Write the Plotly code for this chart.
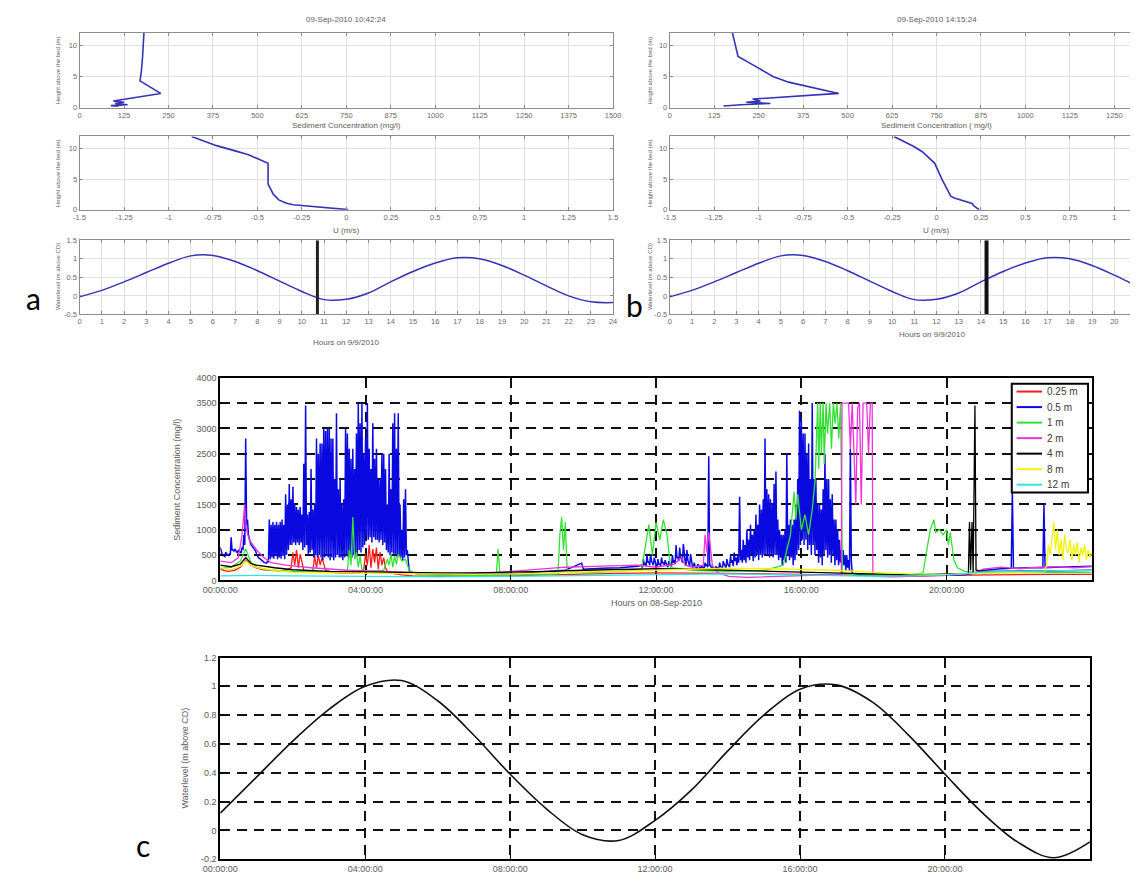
import plotly.graph_objects as go

W, H = 1138, 882

# ---------------- data ----------------
# Tide on 9 Sep 2010 (hourly, m above CD) used in panels a and b
tide_hours = list(range(25))
tide_9sep = [-0.02, 0.15, 0.38, 0.63, 0.88, 1.08, 1.09, 0.93, 0.68, 0.40, 0.12, -0.10, -0.09,
             0.08, 0.38, 0.66, 0.89, 1.03, 1.00, 0.82, 0.56, 0.27, 0.00, -0.16, -0.18]
# Tide on 8 Sep 2010 (hourly) for panel c
tide_8sep = [0.12, 0.37, 0.62, 0.84, 1.00, 1.04, 0.90, 0.66, 0.39, 0.15, -0.03, -0.07, 0.07,
             0.28, 0.55, 0.80, 0.98, 1.01, 0.89, 0.66, 0.39, 0.13, -0.08, -0.19, -0.08]

# Profile times (hours) marked on the tide curves
profile_time_a = 10.70   # 10:42:24
profile_time_b = 14.25   # 14:15:24

# Sediment concentration profiles (height above bed m, mg/l)
sed_height_a = [12, 10, 8, 6, 4.3, 2.3, 1.6, 1.1, 0.9, 0.7, 0.5, 0.35, 0.25]
sed_conc_a = [181, 180, 177, 174, 170, 228, 150, 95, 125, 100, 135, 88, 110]
sed_height_b = [12, 8.2, 6.5, 5, 4.1, 2.3, 1.4, 1.1, 0.9, 0.7, 0.5, 0.3]
sed_conc_b = [176, 192, 245, 290, 334, 475, 233, 255, 215, 283, 200, 151]

# Velocity profiles (height above bed m, U m/s)
vel_height_a = [12, 10.5, 9.6, 9.0, 7.6, 4.2, 2.5, 1.6, 1.1, 0.8, 0.6, 0.4, 0.2, 0.0]
vel_u_a = [-0.87, -0.73, -0.62, -0.55, -0.44, -0.44, -0.41, -0.38, -0.34, -0.30, -0.22, -0.13, -0.05, 0.01]
vel_height_b = [12, 10.4, 9.5, 7.6, 5.0, 2.2, 1.9, 1.6, 1.3, 1.0, 0.6, 0.0]
vel_u_b = [-0.24, -0.13, -0.08, -0.01, 0.03, 0.08, 0.10, 0.13, 0.17, 0.20, 0.21, 0.24]

# Sediment concentration time series on 8 Sep 2010 (hours, mg/l)
# 0.5 m sensor: bursts logged every 1.5 minutes as alternating upper / lower readings
burst_step = 0.05
burst1_start = 0.0
c050_burst1_hi = [650, 520, 480, 560, 500, 520, 850, 600, 620, 560, 600, 560, 650, 900, 2800, 1200,
                  800, 700, 650, 600, 520, 450, 420, 380, 360, 350,
                  380, 1200, 1100, 1150, 1100, 1150, 1100, 1150, 1200, 1100,
                  1700, 1500, 1900, 1600, 1850, 1500, 1450, 1400, 1450, 1300,
                  2300, 3450, 1300, 1350, 2200, 1400, 1500, 2800, 2500, 2700,
                  2700, 3000, 2950, 3000, 3000, 2800, 2800, 2000, 3300, 1800,
                  2000, 1500, 1600, 3000, 2900, 2600, 2400, 2600, 2200, 2900,
                  3500, 3100, 3500, 2500, 2800, 3500, 2600, 2200, 3100, 2400,
                  2600, 2000, 2000, 2500, 2500, 2200, 1500, 2500, 1800, 3100,
                  3300, 2600, 3300, 1500, 1000, 1600, 1800, 600, 200]
c050_burst1_lo = [560, 500, 470, 520, 490, 500, 600, 580, 590, 540, 570, 540, 600, 700, 1100, 900,
                  750, 680, 620, 580, 480, 440, 400, 370, 350, 340,
                  360, 420, 450, 430, 480, 420, 450, 430, 480, 420,
                  500, 600, 700, 700, 750, 700, 750, 700, 750, 600,
                  650, 700, 500, 550, 600, 450, 500, 450, 500, 450,
                  400, 450, 500, 450, 400, 450, 400, 450, 500, 450,
                  450, 400, 450, 500, 450, 500, 450, 500, 450, 500,
                  600, 550, 650, 700, 850, 800, 850, 750, 850, 800,
                  800, 750, 800, 700, 750, 600, 550, 500, 550, 500,
                  500, 450, 500, 450, 400, 450, 500, 300, 180]
quiet1_050 = [(5.3, 150), (5.6, 130), (6.0, 120), (6.5, 115), (7.0, 120), (7.5, 120), (8.0, 130),
              (8.5, 150), (9.0, 180), (9.5, 200), (9.95, 340), (10.0, 220), (10.5, 240),
              (11.0, 250), (11.5, 280)]
burst2_start = 11.6
c050_burst2_hi = [300, 420, 350, 500, 380, 520, 350, 450, 300, 420, 320, 450, 350, 400, 300, 380,
                  320, 500, 400, 700, 450, 650, 420, 720, 380, 600, 330, 520, 280, 350, 260, 320,
                  250, 300, 260, 350, 320, 2450, 300, 260, 240, 280, 250, 350, 260, 380, 280, 420,
                  300, 480, 400, 550, 450, 500, 1650, 600, 800, 700, 1000, 800, 1100, 900, 1000, 1300,
                  1100, 1500, 1400, 1600, 2800, 1800, 1700, 1600, 1500, 1900, 2150, 1200, 1000, 900, 900,
                  1000, 2500, 1100, 1200, 1100, 1200, 1500, 2000, 3350, 3200, 2900, 2900, 2500, 2700,
                  2000, 3500, 2000, 2000, 1500, 1500, 1400, 1800, 2500, 2000, 2000, 1600, 1700, 1200,
                  1200, 1000, 800, 600, 600, 500, 500, 400, 2600, 150, 120]
c050_burst2_lo = [250, 300, 280, 350, 300, 380, 300, 350, 260, 320, 280, 350, 300, 330, 260, 300,
                  280, 350, 320, 450, 380, 450, 350, 450, 300, 400, 280, 350, 240, 280, 230, 260,
                  220, 250, 230, 280, 260, 300, 250, 230, 210, 240, 220, 280, 230, 300, 240, 320,
                  260, 350, 280, 380, 300, 350, 400, 350, 400, 350, 450, 400, 500, 380, 450, 500,
                  400, 500, 450, 500, 500, 500, 450, 500, 450, 500, 500, 400, 450, 300, 400,
                  350, 500, 400, 450, 300, 400, 500, 600, 700, 800, 700, 800, 600, 700,
                  500, 700, 500, 600, 350, 450, 300, 500, 600, 450, 500, 350, 500, 300,
                  400, 300, 350, 250, 300, 200, 250, 180, 400, 130, 110]
quiet2_050 = [(17.6, 110), (18.0, 100), (19.0, 90), (20.0, 100), (20.5, 110), (20.8, 150),
              (21.0, 200), (21.5, 230), (21.78, 240), (21.81, 1780), (21.84, 240), (22.2, 250),
              (22.65, 250), (22.68, 1500), (22.71, 250), (23.0, 260), (23.5, 270), (24.0, 280)]

ssc_025 = [(0, 220), (0.2, 180), (0.4, 200), (0.55, 260), (0.7, 400), (0.85, 300), (1.0, 240),
           (1.2, 210), (1.4, 200), (1.6, 190), (1.8, 200), (1.95, 250), (2.0, 550), (2.05, 300),
           (2.1, 600), (2.15, 250), (2.2, 520), (2.25, 350), (2.3, 200), (2.4, 180), (2.55, 200),
           (2.6, 480), (2.65, 250), (2.7, 500), (2.75, 300), (2.8, 450), (2.9, 200), (3.2, 150),
           (3.5, 140), (3.8, 150), (3.95, 200), (4.0, 520), (4.05, 300), (4.1, 700), (4.15, 250),
           (4.2, 620), (4.25, 350), (4.3, 650), (4.35, 220), (4.4, 560), (4.45, 300), (4.5, 450),
           (4.55, 250), (4.6, 180), (4.8, 130), (5.0, 110), (5.3, 90), (6, 80), (7, 80), (8, 90),
           (9, 110), (10, 130), (11, 140), (12, 150), (13, 150), (14, 140), (15, 130), (16, 120),
           (17, 100), (18, 90), (19, 90), (20, 100), (21, 110), (22, 110), (23, 120), (24, 120)]

ssc_1 = [(0, 230), (0.3, 260), (0.55, 380), (0.7, 620), (0.85, 350), (1.0, 260), (1.3, 210),
         (2.0, 180), (3.0, 170), (3.5, 180), (3.55, 600), (3.6, 300), (3.65, 1250), (3.7, 420),
         (3.75, 560), (3.8, 260), (3.85, 480), (3.9, 220), (4.0, 180), (4.5, 200), (4.6, 420),
         (4.65, 300), (4.7, 520), (4.75, 260), (4.8, 480), (4.85, 320), (4.9, 520), (5.0, 380),
         (5.1, 420), (5.2, 200), (5.4, 120), (6, 100), (7, 100), (7.6, 100), (7.65, 620),
         (7.7, 100), (8, 110), (9, 120), (9.3, 130), (9.35, 900), (9.4, 1250), (9.45, 600),
         (9.5, 1150), (9.55, 200), (10, 150), (11, 180), (11.6, 220), (11.7, 650), (11.8, 1100),
         (11.9, 500), (12.0, 1150), (12.1, 800), (12.2, 1200), (12.3, 900), (12.4, 250),
         (13, 200), (14, 180), (15, 200), (15.5, 300), (15.7, 900), (15.8, 1750), (15.85, 1200),
         (15.9, 1700), (16.0, 1000), (16.1, 1300), (16.2, 900), (16.3, 1400), (16.38, 2000),
         (16.45, 3500), (16.48, 2200), (16.52, 3500), (16.55, 2500), (16.6, 3500), (16.63, 2300),
         (16.68, 3500), (16.72, 2900), (16.78, 3500), (16.83, 2600), (16.88, 3500), (16.93, 3100),
         (16.98, 3500), (17.03, 2800), (17.08, 3500), (17.13, 150), (17.5, 110), (18, 100),
         (19, 110), (19.35, 150), (19.45, 600), (19.55, 1000), (19.65, 1200), (19.7, 950),
         (19.8, 1000), (19.9, 900), (20.0, 1000), (20.05, 700), (20.1, 950), (20.2, 400),
         (20.3, 250), (20.5, 180), (21, 150), (22, 150), (23, 160), (24, 160)]

ssc_2 = [(0, 380), (0.3, 350), (0.5, 450), (0.6, 900), (0.67, 1500), (0.72, 1000), (0.8, 800),
         (0.9, 700), (1.0, 600), (1.2, 450), (1.4, 350), (1.8, 300), (2.5, 250), (3.5, 200),
         (4.5, 180), (5.5, 150), (6.5, 130), (7.5, 150), (8.5, 200), (9.5, 260), (10.5, 280),
         (11.5, 300), (12.0, 260), (12.5, 320), (12.7, 450), (12.8, 300), (13.0, 260), (13.3, 300),
         (13.35, 900), (13.4, 550), (13.45, 950), (13.5, 600), (13.55, 300), (13.7, 150),
         (14.0, 80), (14.5, 60), (15.0, 70), (16.0, 100), (17.0, 120), (17.1, 120), (17.12, 3500),
         (17.3, 3500), (17.35, 2600), (17.4, 3500), (17.5, 1500), (17.55, 3400), (17.6, 3500),
         (17.65, 1500), (17.7, 3500), (17.8, 3500), (17.85, 2500), (17.9, 3500), (17.95, 3500),
         (17.97, 80), (18.5, 70), (19.0, 80), (20.0, 100), (20.8, 150), (21.0, 220), (21.5, 260),
         (22.0, 230), (22.5, 260), (23.0, 270), (23.5, 250), (24.0, 270)]

ssc_4 = [(0, 300), (0.3, 270), (0.55, 320), (0.7, 450), (0.85, 330), (1.0, 300), (1.5, 250),
         (2, 210), (3, 180), (4, 170), (5, 150), (6, 150), (7, 150), (8, 160), (9, 180), (10, 200),
         (11, 220), (12, 230), (13, 220), (14, 200), (15, 180), (16, 160), (17, 140), (18, 120),
         (19, 110), (20, 130), (20.6, 140), (20.63, 1150), (20.66, 200), (20.7, 1150),
         (20.73, 160), (20.78, 3450), (20.81, 200), (21, 180), (22, 180), (23, 190), (24, 200)]

ssc_8 = [(0, 250), (0.3, 210), (0.55, 280), (0.7, 380), (0.85, 300), (1.0, 250), (1.5, 200),
         (2, 160), (3, 150), (4, 140), (5, 130), (6, 120), (7, 120), (8, 130), (9, 150), (10, 170),
         (11, 190), (12, 210), (13, 230), (14, 240), (15, 230), (16, 220), (17, 200), (18, 160),
         (19, 130), (20, 120), (21, 150), (22, 160), (22.7, 170), (22.75, 300), (22.8, 700),
         (22.85, 500), (22.9, 900), (22.95, 1150), (23.0, 600), (23.05, 1000), (23.1, 500),
         (23.15, 800), (23.2, 400), (23.25, 900), (23.3, 600), (23.35, 550), (23.4, 800),
         (23.45, 400), (23.5, 700), (23.55, 500), (23.6, 750), (23.65, 350), (23.7, 650),
         (23.75, 500), (23.8, 700), (23.85, 400), (23.9, 600), (23.95, 450), (24.0, 550)]

ssc_12 = [(0, 90), (1, 100), (2, 90), (4, 80), (6, 70), (8, 80), (10, 100), (12, 120), (14, 130),
          (16, 110), (17, 100), (18, 80), (19, 90), (20, 110), (20.8, 150), (21, 170), (22, 180),
          (23, 190), (24, 200)]

sensor_names = ["0.25 m", "0.5 m", "1 m", "2 m", "4 m", "8 m", "12 m"]
sensor_colors = ["#ff1a1a", "#0a0ae0", "#33e033", "#ee33dd", "#000000", "#f2f20a", "#2ee6e6"]

hour_ticks = [0, 4, 8, 12, 16, 20]
hour_labels = ["00:00:00", "04:00:00", "08:00:00", "12:00:00", "16:00:00", "20:00:00"]

sed_ticks = [0, 125, 250, 375, 500, 625, 750, 875, 1000, 1125, 1250, 1375, 1500]
u_ticks = [-1.5, -1.25, -1, -0.75, -0.5, -0.25, 0, 0.25, 0.5, 0.75, 1, 1.25, 1.5]
u_labels = ["-1.5", "-1.25", "-1", "-0.75", "-0.5", "-0.25", "0", "0.25", "0.5", "0.75", "1", "1.25", "1.5"]
wl_ticks = [-0.5, 0, 0.5, 1, 1.5]
wl_labels = ["-0.5", "0", "0.5", "1", "1.5"]
wl_c_ticks = [-0.2, 0, 0.2, 0.4, 0.6, 0.8, 1.0, 1.2]
wl_c_labels = ["-0.2", "0", "0.2", "0.4", "0.6", "0.8", "1", "1.2"]


# ---------------- helpers ----------------
def burst(start, step, hi, lo):
    """Interleave upper and lower readings of a burst record."""
    t, c = [], []
    for i, (h, l) in enumerate(zip(hi, lo)):
        t += [round(start + i * step, 4), round(start + i * step + step / 2, 4)]
        c += [h, l]
    return t, c


def split(points):
    return [p[0] for p in points], [p[1] for p in points]


def dom_x(p0, p1):
    return [max(0.0, p0 / W), min(1.0, p1 / W)]


def dom_y(top, bottom):
    return [1 - bottom / H, 1 - top / H]


def px(x):
    return x / W


def py(y):
    return 1 - y / H


SMALL_FONT = dict(family="Liberation Sans", size=7.5, color="#6a6a6a")
PROFILE_BLUE = "#3333b8"


def small_axis(domain, rng, tickvals, ticktext=None, mirror="ticks", anchor=None):
    ax = dict(domain=domain, range=rng, tickvals=tickvals, showgrid=True, gridcolor="#e1e1e1",
              gridwidth=1, zeroline=False, showline=True, linecolor="#8c8c8c", linewidth=1,
              mirror=mirror, ticks="inside", ticklen=3, tickcolor="#8c8c8c", tickfont=SMALL_FONT,
              anchor=anchor, fixedrange=True)
    if ticktext is not None:
        ax["ticktext"] = ticktext
    return ax


BIG_FONT = dict(family="Liberation Sans", size=9, color="#5a5a5a")


def big_axis(domain, rng, tickvals, ticktext, anchor):
    return dict(domain=domain, range=rng, tickvals=tickvals, ticktext=ticktext, showgrid=True,
                gridcolor="#111111", griddash="10px,7px", gridwidth=1.5, zeroline=False, showline=True,
                linecolor="#000000", linewidth=2, mirror=True, ticks="inside", ticklen=5,
                tickcolor="#000000", tickfont=BIG_FONT, anchor=anchor, fixedrange=True)


# ---------------- layout geometry (px) ----------------
AX0, AX1 = 63, 609          # panel a plot width
BX0, BX1 = 667, 1213        # panel b plot width (runs past the page edge)
vis = (W - BX0) / (BX1 - BX0)  # visible fraction of panel b
ROW_TOP = (28, 104)
ROW_MID = (133, 207)
ROW_BOT = (238, 313)

fig = go.Figure()

# ---- panel a ----
fig.add_trace(go.Scatter(x=sed_conc_a, y=sed_height_a, mode="lines", line=dict(color=PROFILE_BLUE, width=1.6),
                         xaxis="x", yaxis="y", showlegend=False))
fig.add_trace(go.Scatter(x=vel_u_a, y=vel_height_a, mode="lines", line=dict(color=PROFILE_BLUE, width=1.6),
                         xaxis="x2", yaxis="y2", showlegend=False))
fig.add_trace(go.Scatter(x=tide_hours, y=tide_9sep, mode="lines", line=dict(color=PROFILE_BLUE, width=1.5, shape="spline"),
                         xaxis="x3", yaxis="y3", showlegend=False))
fig.add_trace(go.Scatter(x=[profile_time_a, profile_time_a], y=[wl_ticks[0], wl_ticks[-1]], mode="lines",
                         line=dict(color="#222222", width=3), xaxis="x3", yaxis="y3", showlegend=False))

# ---- panel b ----
fig.add_trace(go.Scatter(x=sed_conc_b, y=sed_height_b, mode="lines", line=dict(color=PROFILE_BLUE, width=1.6),
                         xaxis="x4", yaxis="y4", showlegend=False))
fig.add_trace(go.Scatter(x=vel_u_b, y=vel_height_b, mode="lines", line=dict(color=PROFILE_BLUE, width=1.6),
                         xaxis="x5", yaxis="y5", showlegend=False))
fig.add_trace(go.Scatter(x=tide_hours, y=tide_9sep, mode="lines", line=dict(color=PROFILE_BLUE, width=1.5, shape="spline"),
                         xaxis="x6", yaxis="y6", showlegend=False))
fig.add_trace(go.Scatter(x=[profile_time_b, profile_time_b], y=[wl_ticks[0], wl_ticks[-1]], mode="lines",
                         line=dict(color="#111111", width=4), xaxis="x6", yaxis="y6", showlegend=False))

# ---- panel c: sediment time series ----
b1_t, b1_c = burst(burst1_start, burst_step, c050_burst1_hi, c050_burst1_lo)
b2_t, b2_c = burst(burst2_start, burst_step, c050_burst2_hi, c050_burst2_lo)
q1_t, q1_c = split(quiet1_050)
q2_t, q2_c = split(quiet2_050)
t_050 = b1_t + q1_t + b2_t + q2_t
c_050 = b1_c + q1_c + b2_c + q2_c

series = [split(ssc_025), (t_050, c_050), split(ssc_1), split(ssc_2), split(ssc_4), split(ssc_8), split(ssc_12)]
for name, color, (t, c) in zip(sensor_names, sensor_colors, series):
    fig.add_trace(go.Scatter(x=t, y=c, mode="lines", name=name,
                             line=dict(color=color, width=1.5 if name == "0.5 m" else 1.3),
                             xaxis="x7", yaxis="y7", showlegend=False))

fig.add_trace(go.Scatter(x=tide_hours, y=tide_8sep, mode="lines",
                         line=dict(color="#111111", width=1.6, shape="spline", smoothing=1.0),
                         xaxis="x8", yaxis="y8", showlegend=False))

# ---------------- axes ----------------
layout_axes = dict(
    xaxis=small_axis(dom_x(AX0, AX1), [0, 1500], sed_ticks, anchor="y"),
    yaxis=small_axis(dom_y(*ROW_TOP), [0, 12], [0, 5, 10], anchor="x"),
    xaxis2=small_axis(dom_x(AX0, AX1), [-1.5, 1.5], u_ticks, u_labels, anchor="y2"),
    yaxis2=small_axis(dom_y(*ROW_MID), [0, 12], [0, 5, 10], anchor="x2"),
    xaxis3=small_axis(dom_x(AX0, AX1), [0, 24], tide_hours, anchor="y3"),
    yaxis3=small_axis(dom_y(*ROW_BOT), [-0.5, 1.5], wl_ticks, wl_labels, anchor="x3"),
    xaxis4=small_axis(dom_x(BX0, W), [0, 1500 * vis], sed_ticks, anchor="y4"),
    yaxis4=small_axis(dom_y(*ROW_TOP), [0, 12], [0, 5, 10], mirror=False, anchor="x4"),
    xaxis5=small_axis(dom_x(BX0, W), [-1.5, -1.5 + 3 * vis], u_ticks, u_labels, anchor="y5"),
    yaxis5=small_axis(dom_y(*ROW_MID), [0, 12], [0, 5, 10], mirror=False, anchor="x5"),
    xaxis6=small_axis(dom_x(BX0, W), [0, 24 * vis], tide_hours, anchor="y6"),
    yaxis6=small_axis(dom_y(*ROW_BOT), [-0.5, 1.5], wl_ticks, wl_labels, mirror=False, anchor="x6"),
    xaxis7=big_axis(dom_x(207, 1099), [0, 24], hour_ticks, hour_labels, "y7"),
    yaxis7=big_axis(dom_y(377, 582), [0, 4000], list(range(0, 4001, 500)),
                    [str(v) for v in range(0, 4001, 500)], "x7"),
    xaxis8=big_axis(dom_x(207, 1097), [0, 24], hour_ticks, hour_labels, "y8"),
    yaxis8=big_axis(dom_y(660, 864), [-0.2, 1.2], wl_c_ticks, wl_c_labels, "x8"),
)


def ann(text, x, y, size=7, color="#5e5e5e", angle=0, family="Liberation Sans", xanchor="center"):
    return dict(text=text, x=px(x), y=py(y), xref="paper", yref="paper", showarrow=False,
                font=dict(size=size, color=color, family=family), textangle=angle,
                xanchor=xanchor, yanchor="middle")


acx = (AX0 + AX1) / 2
bcx = (BX0 + BX1) / 2
annotations = [
    ann("09-Sep-2010 10:42:24", acx, 15, size=8),
    ann("09-Sep-2010 14:15:24", bcx, 15, size=8),
    ann("Sediment Concentration (mg/l)", acx, 122, size=8),
    ann("Sediment Concentration ( mg/l)", bcx, 122, size=8),
    ann("U (m/s)", acx, 228, size=8),
    ann("U (m/s)", bcx, 228, size=8),
    ann("Hours on 9/9/2010", acx, 341, size=8),
    ann("Hours on 9/9/2010", bcx - 5, 333, size=8),
    ann("Height above the bed (m)", 41, 66, size=6, angle=-90),
    ann("Height above the bed (m)", 41, 170, size=6, angle=-90),
    ann("Waterlevel (m above CD)", 41, 275, size=6, angle=-90),
    ann("Height above the bed (m)", 647, 66, size=6, angle=-90),
    ann("Height above the bed (m)", 647, 170, size=6, angle=-90),
    ann("Waterlevel (m above CD)", 647, 275, size=6, angle=-90),
    ann("Sediment Concentration (mg/l)", 162, 480, size=9, angle=-90),
    ann("Hours on 08-Sep-2010", 653, 605, size=9),
    ann("Waterlevel (m above CD)", 171, 762, size=9, angle=-90),
    ann("a", 16, 296, size=30, color="#000000", family="Lato"),
    ann("b", 631, 303, size=30, color="#000000", family="Lato"),
    ann("c", 128, 850, size=30, color="#000000", family="Lato"),
]

# ---- sensor key inside the concentration panel ----
KEY_LEFT, KEY_RIGHT, KEY_TOP, KEY_BOTTOM = 1017, 1095, 383, 493
KEY_ROW0, KEY_ROW_STEP = 391, 15.7
shapes = [dict(type="rect", xref="paper", yref="paper", x0=px(KEY_LEFT), x1=px(KEY_RIGHT),
               y0=py(KEY_BOTTOM), y1=py(KEY_TOP), line=dict(color="black", width=2),
               fillcolor="white", layer="above")]
for i, (name, color) in enumerate(zip(sensor_names, sensor_colors)):
    yk = KEY_ROW0 + i * KEY_ROW_STEP
    shapes.append(dict(type="line", xref="paper", yref="paper", x0=px(KEY_LEFT + 5), x1=px(KEY_LEFT + 31),
                       y0=py(yk), y1=py(yk), line=dict(color=color, width=2), layer="above"))
    annotations.append(ann(name, KEY_LEFT + 34, yk, size=10, color="#3a3a3a", xanchor="left"))

fig.update_layout(
    width=W, height=H, autosize=False,
    margin=dict(l=0, r=0, t=0, b=0),
    paper_bgcolor="white", plot_bgcolor="white",
    font=dict(family="Liberation Sans", color="#555555"),
    showlegend=False,
    annotations=annotations,
    shapes=shapes,
    **layout_axes,
)

fig.write_html("out.html")
